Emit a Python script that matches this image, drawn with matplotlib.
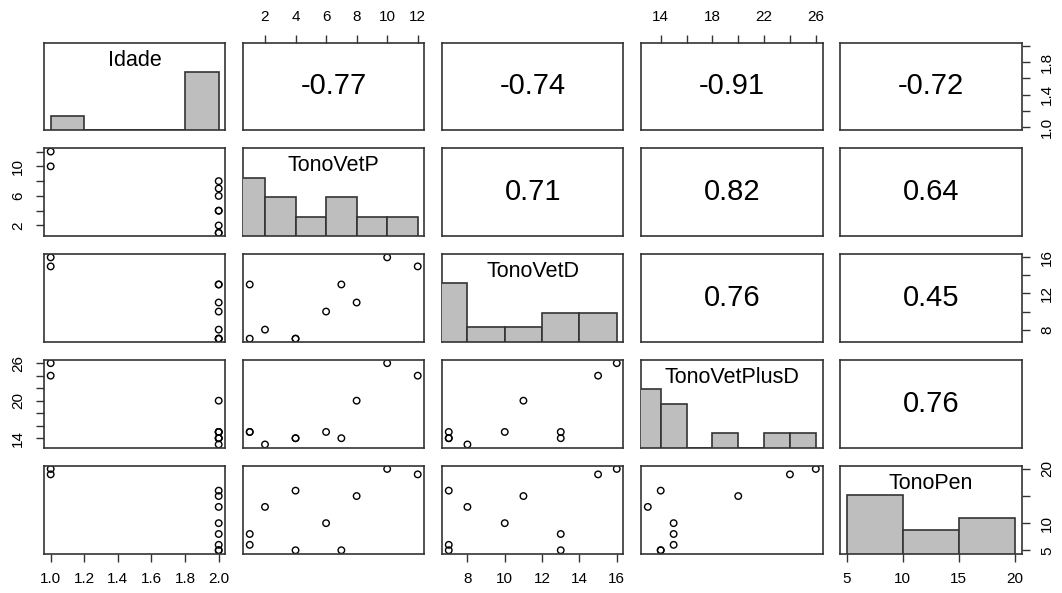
import matplotlib.pyplot as plt
import numpy as np
import pandas as pd

plt.rcParams['font.family'] = ['Liberation Sans', 'DejaVu Sans']

# data: one value per patient
idade = [2, 2, 2, 2, 2, 2, 2, 2, 1, 1]
tono_vet_p = [1, 1, 2, 4, 4, 6, 7, 8, 10, 12]
tono_vet_d = [7, 13, 8, 7, 7, 10, 13, 11, 16, 15]
tono_vet_plus_d = [15, 15, 13, 14, 14, 15, 14, 20, 26, 24]
tono_pen = [6, 8, 13, 16, 5, 10, 5, 15, 20, 19]

names = ['Idade', 'TonoVetP', 'TonoVetD', 'TonoVetPlusD', 'TonoPen']
data = [idade, tono_vet_p, tono_vet_d, tono_vet_plus_d, tono_pen]

# histogram breaks (as R's hist picks them)
breaks = [
    [1.0, 1.2, 1.4, 1.6, 1.8, 2.0],
    [0, 2, 4, 6, 8, 10, 12],
    [6, 8, 10, 12, 14, 16],
    [12, 14, 16, 18, 20, 22, 24, 26],
    [5, 10, 15, 20],
]

# axis ticks, and the labels R keeps on the x and y sides
ticks = [
    [1.0, 1.2, 1.4, 1.6, 1.8, 2.0],
    [2, 4, 6, 8, 10, 12],
    [8, 10, 12, 14, 16],
    [14, 16, 18, 20, 22, 24, 26],
    [5, 10, 15, 20],
]
xlabels = [
    ['1.0', '1.2', '1.4', '1.6', '1.8', '2.0'],
    ['2', '4', '6', '8', '10', '12'],
    ['8', '10', '12', '14', '16'],
    ['14', '', '18', '', '22', '', '26'],
    ['5', '10', '15', '20'],
]
ylabels = [
    ['1.0', '', '1.4', '', '1.8', ''],
    ['2', '', '6', '', '10', ''],
    ['8', '', '12', '', '16'],
    ['14', '', '', '20', '', '', '26'],
    ['5', '10', '', '20'],
]

edge = '#333333'


def lims(v):
    lo, hi = min(v), max(v)
    d = (hi - lo) * 0.04
    return lo - d, hi + d


def style_ticks(ax, axis, k, labels):
    if axis == 'x':
        ax.set_xticks(ticks[k])
        ax.set_xticklabels(labels, fontsize=11)
    else:
        ax.set_yticks(ticks[k])
        ax.set_yticklabels(labels, fontsize=11, rotation=90, va='center')


n = len(names)
fig, axes = plt.subplots(n, n, figsize=(10.62, 5.93), dpi=100)
plt.subplots_adjust(left=0.0414, right=0.9619, top=0.9283, bottom=0.0666,
                    wspace=0.097, hspace=0.205)

for i in range(n):
    for j in range(n):
        ax = axes[i, j]
        ax.set_xlim(lims(data[j]))
        ax.set_ylim(lims(data[i]))
        ax.set_xticks([])
        ax.set_yticks([])
        for s in ax.spines.values():
            s.set_color(edge)
            s.set_linewidth(1.2)

        if i == j:
            # histogram on a twin axis so the main one keeps the data scale
            hax = ax.twinx()
            hax.set_ylim(0, 1.5)
            hax.set_yticks([])
            for s in hax.spines.values():
                s.set_visible(False)
            cats = pd.Series(pd.cut(data[i], breaks[i], right=True, include_lowest=True))
            counts = cats.value_counts(sort=False).values
            b = np.array(breaks[i])
            hax.bar(b[:-1], counts / counts.max(), width=np.diff(b), align='edge',
                    color='#BEBEBE', edgecolor=edge, linewidth=1.2)
            hax.text(0.5, 0.8, names[i], transform=ax.transAxes, ha='center',
                     va='center', fontsize=15.5, zorder=5)
        elif i < j:
            r = np.corrcoef(data[i], data[j])[0, 1]
            ax.text(0.5, 0.5, f'{r:.2f}', transform=ax.transAxes, ha='center',
                    va='center', fontsize=21)
        else:
            ax.scatter(data[j], data[i], s=22, facecolors='none',
                       edgecolors='black', linewidths=1.0)

        tp = dict(length=5.5, width=1, color=edge, pad=8)
        if i == 0 and j % 2 == 1:
            ax.xaxis.tick_top()
            style_ticks(ax, 'x', j, xlabels[j])
            ax.tick_params(axis='x', **tp)
        if i == n - 1 and j % 2 == 0:
            style_ticks(ax, 'x', j, xlabels[j])
            ax.tick_params(axis='x', **tp)
        if j == 0 and i % 2 == 1:
            style_ticks(ax, 'y', i, ylabels[i])
            ax.tick_params(axis='y', **tp)
        if j == n - 1 and i % 2 == 0:
            ax.yaxis.tick_right()
            style_ticks(ax, 'y', i, ylabels[i])
            ax.tick_params(axis='y', **tp)

plt.savefig('out.png', dpi=100)
